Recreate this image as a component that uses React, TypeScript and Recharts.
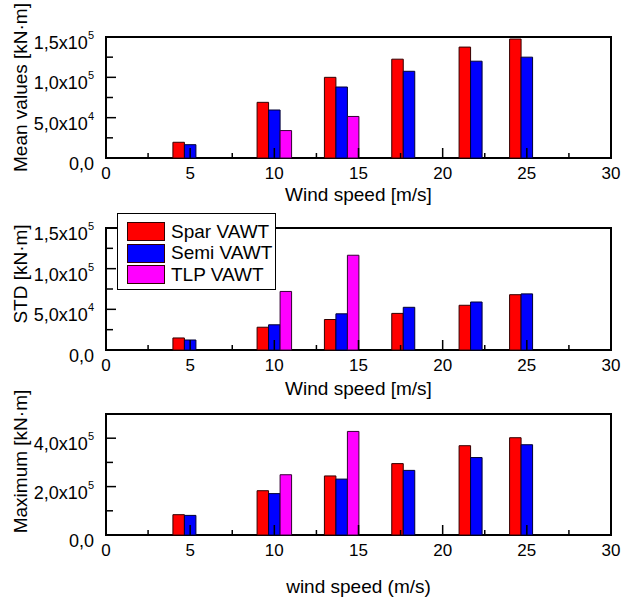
import { BarChart, Bar, XAxis, YAxis, ReferenceArea, Legend, Label } from "recharts";

const windSpeed = [5, 10, 14, 18, 22, 25];
const seriesNames = ["Spar VAWT", "Semi VAWT", "TLP VAWT"];
const COLORS = ["#FF0000", "#0000FF", "#FF00FF"];

const meanSpar = [19500, 69000, 100000, 122500, 137500, 147500];
const meanSemi = [16500, 59500, 88000, 107500, 120000, 125000];
const meanTlp = [null, 34000, 51500, null, null, null];

const stdSpar = [14800, 28000, 37500, 45000, 55000, 68000];
const stdSemi = [12300, 31000, 44500, 52500, 59000, 69000];
const stdTlp = [null, 72000, 116500, null, null, null];

const maxSpar = [84000, 183000, 244000, 295000, 369000, 402000];
const maxSemi = [81000, 171000, 231000, 267000, 320000, 373000];
const maxTlp = [null, 249000, 428000, null, null, null];

const xTicks = [0, 2.5, 5, 7.5, 10, 12.5, 15, 17.5, 20, 22.5, 25, 27.5, 30];
const xMajor = [0, 5, 10, 15, 20, 25, 30];
const smallYTicks = [0, 25000, 50000, 75000, 100000, 125000, 150000];
const smallYMajor = [0, 50000, 100000, 150000];
const bigYTicks = [0, 100000, 200000, 300000, 400000];
const bigYMajor = [0, 200000, 400000];

const FONT = "'Liberation Sans', Arial, sans-serif";
const W = 622;
const H = 602;

const build = (a: (number | null)[], b: (number | null)[], c: (number | null)[]) =>
  windSpeed.map((x, i) => ({ x, spar: a[i], semi: b[i], tlp: c[i] }));

function sci(v: number) {
  if (v === 0) return { m: "0,0", e: "" };
  const e = Math.floor(Math.log10(v) + 1e-9);
  const m = (v / Math.pow(10, e)).toFixed(1).replace(".", ",");
  return { m: m + "x10", e: String(e) };
}

const makeYTick = (majors: number[]) => (props: any) => {
  const { x, y, payload } = props;
  const major = majors.includes(payload.value);
  const s = sci(payload.value);
  return (
    <g>
      <line x1={x} x2={x + (major ? 10 : 7)} y1={y} y2={y} stroke="#000" strokeWidth={1.5} />
      {major && (
        <text x={x - 12} y={y + 12} textAnchor="end" fontSize={18} fontFamily={FONT} fill="#000">
          {s.m}
          {s.e && (
            <tspan dy={-10} fontSize={11}>
              {s.e}
            </tspan>
          )}
        </text>
      )}
    </g>
  );
};

const XTick = (props: any) => {
  const { x, y, payload } = props;
  const major = xMajor.includes(payload.value);
  return (
    <g>
      <line x1={x} x2={x} y1={y} y2={y - (major ? 10 : 5)} stroke="#000" strokeWidth={1.5} />
      {major && (
        <text x={x} y={y + 21} textAnchor="middle" fontSize={17} fontFamily={FONT} fill="#000">
          {payload.value}
        </text>
      )}
    </g>
  );
};

// legend drawn from the series arrays so the order stays Spar, Semi, TLP
const renderLegend = () => (
  <div
    style={{
      border: "1px solid #000",
      background: "#fff",
      width: 157,
      height: 68,
      boxSizing: "content-box",
      paddingTop: 7,
      fontFamily: FONT,
      fontSize: 19,
    }}
  >
    {seriesNames.map((name, i) => (
      <div key={name} style={{ display: "flex", alignItems: "center", height: 21.5, paddingLeft: 9 }}>
        <div style={{ width: 36, height: 17, background: COLORS[i], border: "1px solid #300" }} />
        <span style={{ marginLeft: 6, color: "#000" }}>{name}</span>
      </div>
    ))}
  </div>
);

interface PanelProps {
  data: any[];
  yLabel: string;
  xLabel: string;
  yMax: number;
  yTicks: number[];
  yMajor: number[];
  top: number;
  bottom: number;
  xLabelOffset: number;
  yLabelShift: number;
  legend?: boolean;
}

function Panel(p: PanelProps) {
  return (
    <div style={{ position: "absolute", left: 0, top: 0 }}>
      <BarChart
        width={W}
        height={H}
        data={p.data}
        margin={{ top: p.top, right: 11, bottom: H - p.bottom - 30, left: 46 }}
        barGap={0}
      >
        <XAxis
          type="number"
          dataKey="x"
          domain={[0, 30]}
          ticks={xTicks}
          interval={0}
          tickSize={0}
          tickMargin={0}
          axisLine={false}
          tickLine={false}
          tick={XTick}
          height={30}
        >
          <Label
            content={(lp: any) => {
              const vb = lp.viewBox;
              return (
                <text
                  x={vb.x + vb.width / 2}
                  y={vb.y + p.xLabelOffset}
                  textAnchor="middle"
                  fontSize={19}
                  fontFamily={FONT}
                  fill="#000"
                >
                  {p.xLabel}
                </text>
              );
            }}
          />
        </XAxis>
        <YAxis
          type="number"
          domain={[0, p.yMax]}
          ticks={p.yTicks}
          interval={0}
          tickSize={0}
          tickMargin={0}
          axisLine={false}
          tickLine={false}
          tick={makeYTick(p.yMajor)}
          width={60}
        >
          <Label
            content={(lp: any) => {
              const vb = lp.viewBox;
              const cy = vb.y + vb.height / 2 + p.yLabelShift;
              return (
                <text
                  x={27}
                  y={cy}
                  transform={`rotate(-90 27 ${cy})`}
                  textAnchor="middle"
                  fontSize={19}
                  fontFamily={FONT}
                  fill="#000"
                >
                  {p.yLabel}
                </text>
              );
            }}
          />
        </YAxis>
        {p.legend && (
          <Legend
            layout="vertical"
            align="center"
            verticalAlign="middle"
            content={renderLegend}
            wrapperStyle={{ left: 117, top: 213, width: 159 }}
          />
        )}
        <Bar dataKey="spar" name={seriesNames[0]} fill={COLORS[0]} stroke="#300" strokeWidth={1} barSize={11.5} isAnimationActive={false} />
        <Bar dataKey="semi" name={seriesNames[1]} fill={COLORS[1]} stroke="#003" strokeWidth={1} barSize={11.5} isAnimationActive={false} />
        <Bar dataKey="tlp" name={seriesNames[2]} fill={COLORS[2]} stroke="#303" strokeWidth={1} barSize={11.5} isAnimationActive={false} />
        <ReferenceArea x1={0} x2={30} y1={0} y2={p.yMax} fill="none" stroke="#000" strokeWidth={2} />
      </BarChart>
    </div>
  );
}

export default function App() {
  return (
    <div style={{ position: "absolute", left: 0, top: 0, width: W, height: H, background: "#fff" }}>
      <Panel
        data={build(meanSpar, meanSemi, meanTlp)}
        yLabel="Mean values [kN·m]"
        xLabel="Wind speed [m/s]"
        yMax={150000}
        yTicks={smallYTicks}
        yMajor={smallYMajor}
        top={37}
        bottom={158}
        xLabelOffset={43}
        yLabelShift={-10}
      />
      <Panel
        data={build(stdSpar, stdSemi, stdTlp)}
        yLabel="STD [kN·m]"
        xLabel="Wind speed [m/s]"
        yMax={150000}
        yTicks={smallYTicks}
        yMajor={smallYMajor}
        top={228}
        bottom={350}
        xLabelOffset={45}
        yLabelShift={-15}
        legend
      />
      <Panel
        data={build(maxSpar, maxSemi, maxTlp)}
        yLabel="Maximum [kN·m]"
        xLabel="wind speed (m/s)"
        yMax={500000}
        yTicks={bigYTicks}
        yMajor={bigYMajor}
        top={414}
        bottom={535}
        xLabelOffset={58}
        yLabelShift={-13}
      />
    </div>
  );
}
